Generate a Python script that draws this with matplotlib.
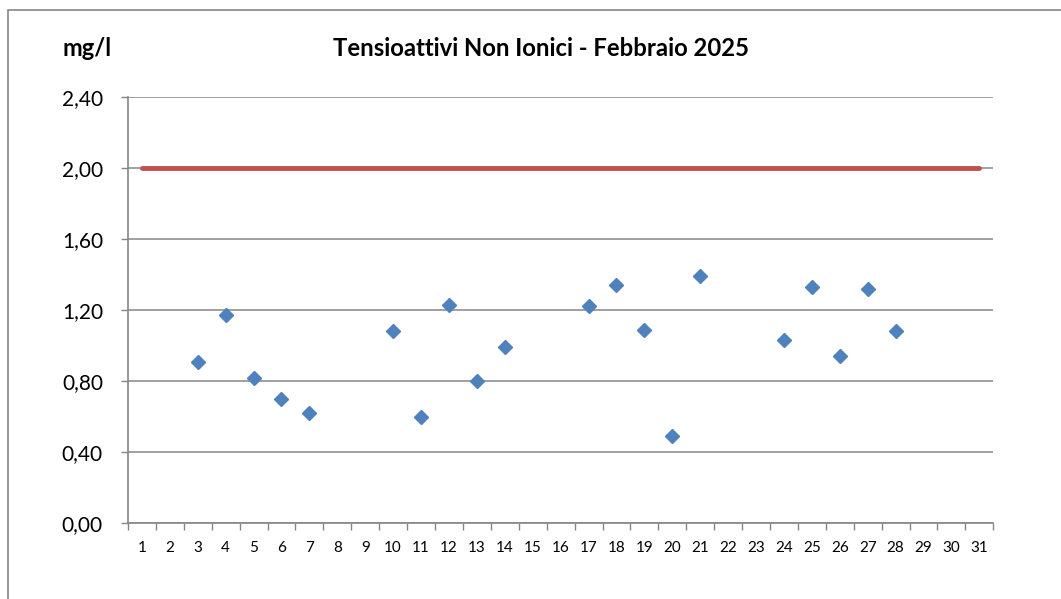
import numpy as np
import matplotlib
matplotlib.use("Agg")
import matplotlib.pyplot as plt
from matplotlib.patches import Rectangle

# data
days = list(range(1, 32))
sample_days = [3, 4, 5, 6, 7, 10, 11, 12, 13, 14, 17, 18, 19, 20, 21, 24, 25, 26, 27, 28]
sample_vals = [0.91, 1.17, 0.82, 0.70, 0.62, 1.08, 0.60, 1.23, 0.80, 0.99,
               1.22, 1.34, 1.09, 0.49, 1.39, 1.03, 1.33, 0.94, 1.32, 1.08]
limit_val = 2.00
y_ticks = [0.0, 0.4, 0.8, 1.2, 1.6, 2.0, 2.4]

plt.rcParams['font.family'] = ['Lato', 'DejaVu Sans']

fig = plt.figure(figsize=(10.61, 5.99), dpi=100)
# outer chart border (cut off on the right and bottom)
fig.patches.append(Rectangle((8 / 1061, -0.05), 1.1, 1 - 10 / 599 + 0.05,
                             transform=fig.transFigure, fill=False,
                             edgecolor='#868686', linewidth=1.2))

ax = fig.add_axes([0.1206, 0.1264, 0.8156, 0.7122])
grid_c = '#868686'

ax.plot(days, [limit_val] * len(days), color='#C0504D', linewidth=3.5,
        solid_capstyle='round', zorder=2)
ax.plot(sample_days, sample_vals, linestyle='none', marker='D', markersize=7.4,
        color='#4F81BD', markeredgecolor='#4F81BD', zorder=3)

ax.set_xlim(0.5, 31.5)
ax.set_ylim(0, 2.4)
ax.set_yticks(y_ticks)
ax.set_yticklabels([f"{v:.2f}".replace('.', ',') for v in y_ticks], fontsize=15)
ax.set_xticks(days)
ax.set_xticklabels([str(d) for d in days], fontsize=11)
ax.set_xticks(np.arange(0.5, 32, 1), minor=True)
ax.tick_params(axis='x', which='major', length=0, pad=13)
ax.tick_params(axis='x', which='minor', length=5, color=grid_c, width=1)
ax.tick_params(axis='y', length=5, color=grid_c, width=1, pad=13)

ax.yaxis.grid(True, color=grid_c, linewidth=1.1)
ax.set_axisbelow(True)
for s in ['top', 'right']:
    ax.spines[s].set_visible(False)
for s in ['left', 'bottom']:
    ax.spines[s].set_color(grid_c)
    ax.spines[s].set_linewidth(1.2)

fig.text(541 / 1061, 1 - 48 / 599, 'Tensioattivi Non Ionici - Febbraio 2025',
         ha='center', va='center', fontsize=17.2, fontweight='bold')
fig.text(62 / 1061, 1 - 48 / 599, 'mg/l', ha='left', va='center',
         fontsize=17, fontweight='bold')

fig.savefig('out.png', dpi=100)
